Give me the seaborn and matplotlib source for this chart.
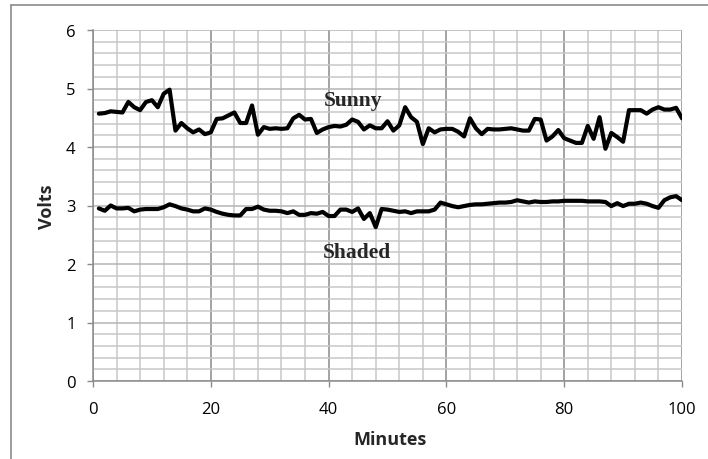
import numpy as np
import pandas as pd
import seaborn as sns
import matplotlib.pyplot as plt
from matplotlib.ticker import MultipleLocator
from matplotlib.lines import Line2D

minutes = list(range(1, 101))

sunny = [4.57, 4.58, 4.61, 4.60, 4.59, 4.77, 4.68, 4.63, 4.77, 4.80, 4.68, 4.91, 4.98,
         4.28, 4.41, 4.32, 4.25, 4.30, 4.22, 4.25, 4.48, 4.49, 4.54, 4.59, 4.41, 4.41,
         4.71, 4.21, 4.34, 4.31, 4.32, 4.31, 4.32, 4.49, 4.55, 4.47, 4.48, 4.24, 4.30,
         4.34, 4.36, 4.35, 4.38, 4.47, 4.43, 4.30, 4.37, 4.32,
         4.32, 4.44, 4.28, 4.37, 4.68, 4.51, 4.43, 4.05, 4.32, 4.25, 4.30, 4.31,
         4.31, 4.26, 4.18, 4.49, 4.32, 4.22, 4.31, 4.30, 4.30, 4.31, 4.32, 4.30,
         4.28, 4.28, 4.48, 4.47, 4.11, 4.18, 4.29, 4.15, 4.11, 4.07, 4.07, 4.36,
         4.14, 4.51, 3.97, 4.24, 4.17, 4.09, 4.63, 4.63, 4.63, 4.57, 4.64, 4.68,
         4.64, 4.64, 4.67, 4.49]

shaded = [2.95, 2.91, 3.00, 2.95, 2.95, 2.96, 2.90, 2.93, 2.94, 2.94, 2.94, 2.97,
          3.02, 2.99, 2.95, 2.93, 2.90, 2.90, 2.95, 2.93, 2.89, 2.86, 2.84, 2.83,
          2.83, 2.94, 2.94, 2.98, 2.93, 2.91, 2.91, 2.90, 2.87, 2.90, 2.84, 2.84,
          2.87, 2.86, 2.89, 2.82, 2.82, 2.93, 2.93, 2.89, 2.95, 2.77, 2.87, 2.63,
          2.94, 2.93, 2.91, 2.89, 2.90, 2.87, 2.90, 2.90, 2.90, 2.93, 3.05, 3.02,
          2.99, 2.97, 2.99, 3.01, 3.02, 3.02, 3.03, 3.04, 3.05, 3.05, 3.06, 3.09,
          3.07, 3.05, 3.07, 3.06, 3.06, 3.07, 3.07, 3.08, 3.08, 3.08, 3.08, 3.07,
          3.07, 3.07, 3.06, 2.99, 3.04, 2.99, 3.03, 3.03, 3.05, 3.03, 2.99, 2.96,
          3.09, 3.14, 3.16, 3.09]

df = pd.DataFrame({
    "Minutes": minutes + minutes,
    "Volts": sunny + shaded,
    "cond": ["Sunny"] * len(sunny) + ["Shaded"] * len(shaded),
})

sns.set_theme(style="white")
plt.rcParams["font.family"] = ["Open Sans", "DejaVu Sans"]

fig = plt.figure(figsize=(7.08, 4.6), dpi=100)
ax = fig.add_axes([93 / 708, 78 / 460, 589 / 708, 351 / 460])

sns.lineplot(data=df, x="Minutes", y="Volts", units="cond", estimator=None,
             color="black", linewidth=3, ax=ax, legend=False)
for ln in ax.lines:
    ln.set_solid_joinstyle("round")
    ln.set_solid_capstyle("round")

ax.set_xlim(0, 100)
ax.set_ylim(0, 6)
ax.xaxis.set_major_locator(MultipleLocator(20))
ax.xaxis.set_minor_locator(MultipleLocator(4))
ax.yaxis.set_major_locator(MultipleLocator(1))
ax.yaxis.set_minor_locator(MultipleLocator(0.2))

ax.set_axisbelow(True)
ax.grid(which="minor", color="#c8c8c8", linewidth=1.1)
ax.xaxis.grid(which="major", color="#8a8a8a", linewidth=1.1)
ax.yaxis.grid(which="major", color="#b4b4b4", linewidth=1.1)

for s in ["top", "right"]:
    ax.spines[s].set_visible(False)
for s in ["left", "bottom"]:
    ax.spines[s].set_color("#8a8a8a")
    ax.spines[s].set_linewidth(1.1)

ax.tick_params(which="major", direction="out", length=4.5, width=1, color="#8a8a8a",
               labelsize=12, labelcolor="black", left=True, bottom=True)
ax.tick_params(axis="y", pad=8)
ax.tick_params(axis="x", pad=10)
ax.tick_params(which="minor", length=0)
ax.set_xlabel("")
ax.set_ylabel("")

ax.text(44.2, 4.72, "Sunny", family="Liberation Serif", fontweight="bold",
        fontsize=15.5, ha="center", va="baseline")
ax.text(44.8, 2.12, "Shaded", family="Liberation Serif", fontweight="bold",
        fontsize=15.5, ha="center", va="baseline")

fig.text(47 / 708, 1 - 207 / 460, "Volts", rotation=90, fontweight="bold",
         fontsize=13, ha="center", va="center")
fig.text(390 / 708, 1 - 440 / 460, "Minutes", fontweight="bold",
         fontsize=13, ha="center", va="center")

# outer chart frame (left and top edges visible)
fig.add_artist(Line2D([11 / 708, 11 / 708], [0, 1 - 6 / 460], transform=fig.transFigure,
                      color="#8a8a8a", linewidth=1.2))
fig.add_artist(Line2D([11 / 708, 1], [1 - 6 / 460, 1 - 6 / 460], transform=fig.transFigure,
                      color="#8a8a8a", linewidth=1.2))

fig.savefig("out.png", dpi=100)
